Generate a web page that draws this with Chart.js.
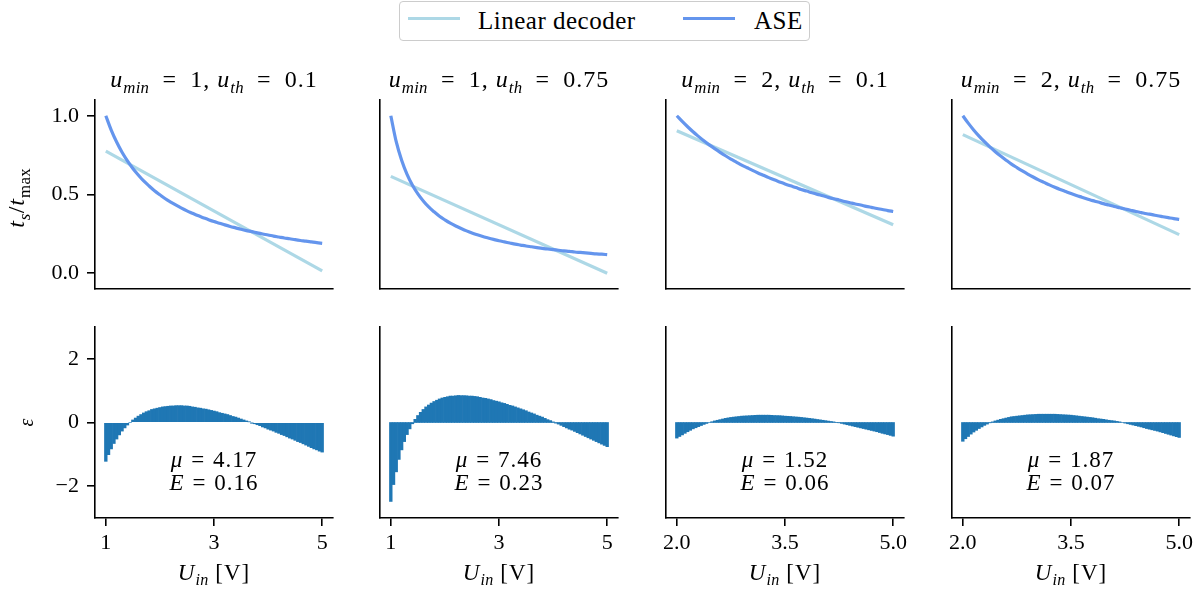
<!DOCTYPE html>
<html>
<head>
<meta charset="utf-8">
<script src="https://cdn.jsdelivr.net/npm/chart.js@4.4.0/dist/chart.umd.min.js"></script>
<style>
  html, body { margin: 0; padding: 0; background: #fff; }
  #page { position: relative; width: 1203px; height: 597px; overflow: hidden; font-family: 'Liberation Serif', serif; color: #000; }
  #page canvas { position: absolute; left: 0; top: 0; }
  .txt { position: absolute; white-space: nowrap; transform: translate(-50%, -50%); line-height: 1; letter-spacing: 1px; }
  .rot { transform: translate(-50%, -50%) rotate(-90deg); }
  .txt sub { font-size: 70%; vertical-align: -0.35em; line-height: 0; letter-spacing: 0.3px; }
  .eq { margin: 0 0.34em; }
  .title .eq { margin: 0 0.55em; }
  #legend { position: absolute; left: 399px; top: 1px; width: 409px; height: 38px; border: 1px solid #ccc; border-radius: 4px; background: #fff; font-size: 25px; letter-spacing: 0.5px; }
  #legend .swatch { position: absolute; top: 15px; width: 52px; height: 3px; }
  #legend .lbl { position: absolute; top: 18px; transform: translateY(-50%); line-height: 1; white-space: nowrap; }
</style>
</head>
<body>
<div id="page"></div>
<script>
// series names and colours
const seriesNames = ['Linear decoder', 'ASE'];
const seriesColors = ['#add8e6', '#6495ed'];
const barColor = '#1f77b4';

// panel parameters
const uMin = [1, 1, 2, 2];
const uTh = [0.1, 0.75, 0.1, 0.75];
const muValues = ['4.17', '7.46', '1.52', '1.87'];
const eValues = ['0.16', '0.23', '0.06', '0.07'];

// input voltage grids for the curves
const uGridA = [1.0, 1.1, 1.2, 1.3, 1.4, 1.5, 1.6, 1.7, 1.8, 1.9, 2.0, 2.1, 2.2, 2.3, 2.4, 2.5, 2.6, 2.7, 2.8, 2.9,
  3.0, 3.1, 3.2, 3.3, 3.4, 3.5, 3.6, 3.7, 3.8, 3.9, 4.0, 4.1, 4.2, 4.3, 4.4, 4.5, 4.6, 4.7, 4.8, 4.9, 5.0];
const uGridB = [2.0, 2.075, 2.15, 2.225, 2.3, 2.375, 2.45, 2.525, 2.6, 2.675, 2.75, 2.825, 2.9, 2.975, 3.05, 3.125,
  3.2, 3.275, 3.35, 3.425, 3.5, 3.575, 3.65, 3.725, 3.8, 3.875, 3.95, 4.025, 4.1, 4.175, 4.25, 4.325, 4.4, 4.475,
  4.55, 4.625, 4.7, 4.775, 4.85, 4.925, 5.0];

// input voltage grids for the error bars
const uFineA = [1.00, 1.05, 1.10, 1.15, 1.20, 1.25, 1.30, 1.35, 1.40, 1.45, 1.50, 1.55, 1.60, 1.65, 1.70, 1.75,
  1.80, 1.85, 1.90, 1.95, 2.00, 2.05, 2.10, 2.15, 2.20, 2.25, 2.30, 2.35, 2.40, 2.45, 2.50, 2.55, 2.60, 2.65, 2.70,
  2.75, 2.80, 2.85, 2.90, 2.95, 3.00, 3.05, 3.10, 3.15, 3.20, 3.25, 3.30, 3.35, 3.40, 3.45, 3.50, 3.55, 3.60, 3.65,
  3.70, 3.75, 3.80, 3.85, 3.90, 3.95, 4.00, 4.05, 4.10, 4.15, 4.20, 4.25, 4.30, 4.35, 4.40, 4.45, 4.50, 4.55, 4.60,
  4.65, 4.70, 4.75, 4.80, 4.85, 4.90, 4.95, 5.00];
const uFineB = [2.0, 2.0375, 2.075, 2.1125, 2.15, 2.1875, 2.225, 2.2625, 2.3, 2.3375, 2.375, 2.4125, 2.45, 2.4875,
  2.525, 2.5625, 2.6, 2.6375, 2.675, 2.7125, 2.75, 2.7875, 2.825, 2.8625, 2.9, 2.9375, 2.975, 3.0125, 3.05, 3.0875,
  3.125, 3.1625, 3.2, 3.2375, 3.275, 3.3125, 3.35, 3.3875, 3.425, 3.4625, 3.5, 3.5375, 3.575, 3.6125, 3.65, 3.6875,
  3.725, 3.7625, 3.8, 3.8375, 3.875, 3.9125, 3.95, 3.9875, 4.025, 4.0625, 4.1, 4.1375, 4.175, 4.2125, 4.25, 4.2875,
  4.325, 4.3625, 4.4, 4.4375, 4.475, 4.5125, 4.55, 4.5875, 4.625, 4.6625, 4.7, 4.7375, 4.775, 4.8125, 4.85, 4.8875,
  4.925, 4.9625, 5.0];

// t_s / t_max of the ASE
const ase1 = [1.000, 0.909, 0.833, 0.768, 0.713, 0.665, 0.624, 0.586, 0.554, 0.524, 0.498, 0.473, 0.452, 0.432,
  0.413, 0.396, 0.381, 0.366, 0.353, 0.340, 0.328, 0.318, 0.307, 0.297, 0.288, 0.279, 0.271, 0.264, 0.256, 0.249,
  0.243, 0.236, 0.230, 0.224, 0.219, 0.213, 0.208, 0.204, 0.199, 0.194, 0.190];
const ase2 = [1.000, 0.835, 0.717, 0.628, 0.559, 0.504, 0.459, 0.421, 0.390, 0.362, 0.339, 0.318, 0.300, 0.284,
  0.269, 0.256, 0.244, 0.233, 0.224, 0.215, 0.206, 0.199, 0.192, 0.185, 0.179, 0.173, 0.168, 0.163, 0.158, 0.154,
  0.150, 0.146, 0.142, 0.139, 0.135, 0.132, 0.129, 0.126, 0.123, 0.121, 0.118];
const ase3 = [1.000, 0.964, 0.930, 0.898, 0.869, 0.841, 0.815, 0.791, 0.768, 0.746, 0.725, 0.706, 0.687, 0.670,
  0.653, 0.637, 0.622, 0.607, 0.593, 0.580, 0.567, 0.555, 0.544, 0.532, 0.522, 0.511, 0.501, 0.492, 0.482, 0.473,
  0.465, 0.456, 0.448, 0.440, 0.433, 0.425, 0.418, 0.411, 0.405, 0.398, 0.392];
const ase4 = [1.000, 0.953, 0.910, 0.871, 0.835, 0.802, 0.772, 0.744, 0.718, 0.693, 0.671, 0.650, 0.630, 0.611,
  0.593, 0.577, 0.561, 0.546, 0.532, 0.519, 0.506, 0.494, 0.483, 0.472, 0.461, 0.452, 0.442, 0.433, 0.424, 0.416,
  0.408, 0.400, 0.392, 0.385, 0.378, 0.372, 0.365, 0.359, 0.353, 0.347, 0.342];

// linear decoder, value at first and last grid point
const linear1 = [0.775, 0.015];
const linear2 = [0.615, 0.0];
const linear3 = [0.905, 0.308];
const linear4 = [0.880, 0.245];

// error epsilon
const err1 = [-1.22, -1.01, -0.83, -0.66, -0.52, -0.39, -0.27, -0.17, -0.08, 0.00, 0.08, 0.14, 0.20, 0.25, 0.30,
  0.34, 0.37, 0.41, 0.43, 0.45, 0.47, 0.49, 0.50, 0.51, 0.52, 0.52, 0.53, 0.53, 0.53, 0.52, 0.52, 0.51, 0.49, 0.48,
  0.46, 0.45, 0.43, 0.42, 0.40, 0.38, 0.36, 0.34, 0.31, 0.29, 0.27, 0.25, 0.22, 0.19, 0.17, 0.14, 0.11, 0.08, 0.05,
  0.02, -0.01, -0.04, -0.07, -0.10, -0.14, -0.17, -0.21, -0.24, -0.27, -0.31, -0.34, -0.38, -0.41, -0.45, -0.49,
  -0.52, -0.56, -0.60, -0.63, -0.67, -0.71, -0.75, -0.79, -0.83, -0.86, -0.90, -0.93];
const err2 = [-2.48, -1.95, -1.55, -1.16, -0.86, -0.60, -0.38, -0.20, -0.04, 0.10, 0.22, 0.32, 0.41, 0.49, 0.55,
  0.61, 0.66, 0.70, 0.74, 0.77, 0.79, 0.81, 0.83, 0.83, 0.84, 0.85, 0.845, 0.845, 0.84, 0.83, 0.83, 0.82, 0.81, 0.79,
  0.77, 0.76, 0.74, 0.72, 0.69, 0.67, 0.65, 0.62, 0.60, 0.57, 0.54, 0.52, 0.49, 0.46, 0.43, 0.40, 0.37, 0.33, 0.30,
  0.27, 0.23, 0.20, 0.17, 0.13, 0.09, 0.06, 0.02, -0.02, -0.05, -0.09, -0.13, -0.17, -0.21, -0.24, -0.28, -0.32,
  -0.36, -0.40, -0.44, -0.48, -0.52, -0.56, -0.60, -0.64, -0.68, -0.72, -0.76];
const err3 = [-0.49, -0.44, -0.39, -0.34, -0.29, -0.245, -0.20, -0.165, -0.13, -0.095, -0.06, -0.03, 0.00, 0.025,
  0.05, 0.07, 0.09, 0.11, 0.13, 0.145, 0.16, 0.17, 0.18, 0.19, 0.20, 0.205, 0.21, 0.215, 0.22, 0.225, 0.23, 0.23,
  0.23, 0.23, 0.23, 0.225, 0.22, 0.218, 0.215, 0.208, 0.20, 0.195, 0.19, 0.182, 0.175, 0.168, 0.16, 0.15, 0.14, 0.13,
  0.12, 0.108, 0.095, 0.083, 0.07, 0.058, 0.045, 0.033, 0.02, 0.005, -0.01, -0.03, -0.05, -0.07, -0.09, -0.11, -0.13,
  -0.15, -0.17, -0.19, -0.21, -0.23, -0.25, -0.27, -0.29, -0.315, -0.34, -0.36, -0.38, -0.405, -0.43];
const err4 = [-0.59, -0.51, -0.44, -0.365, -0.30, -0.245, -0.19, -0.14, -0.09, -0.05, -0.01, 0.02, 0.05, 0.075,
  0.10, 0.12, 0.14, 0.16, 0.18, 0.19, 0.20, 0.21, 0.22, 0.23, 0.24, 0.245, 0.25, 0.255, 0.26, 0.26, 0.26, 0.26, 0.26,
  0.26, 0.26, 0.255, 0.25, 0.245, 0.24, 0.235, 0.23, 0.22, 0.21, 0.20, 0.19, 0.18, 0.17, 0.16, 0.15, 0.135, 0.12,
  0.11, 0.10, 0.085, 0.07, 0.06, 0.05, 0.035, 0.02, 0.00, -0.02, -0.04, -0.06, -0.08, -0.10, -0.12, -0.14, -0.165,
  -0.19, -0.21, -0.23, -0.25, -0.27, -0.295, -0.32, -0.345, -0.37, -0.395, -0.42, -0.445, -0.47];

// ticks
const topYTicks = [0, 0.5, 1.0];
const bottomYTicks = [-2, 0, 2];
const xTicksA = [1, 3, 5];
const xTicksB = [2.0, 3.5, 5.0];

// layout (pixels)
const W = 1203, H = 597;
const colLeft = [95, 380, 666, 952];
const colWidth = 238;
const topRow = [100, 289];
const bottomRow = [327, 518];
const yAxisW = 60, xAxisH = 40;
const tickFont = { family: "'Liberation Serif', serif", size: 22 };
const axisWidth = 1.6;

const columns = [
  { u: uGridA, ase: ase1, lin: linear1, uf: uFineA, err: err1, xRange: [0.8, 5.2], xTicks: xTicksA, dec: 0 },
  { u: uGridA, ase: ase2, lin: linear2, uf: uFineA, err: err2, xRange: [0.8, 5.2], xTicks: xTicksA, dec: 0 },
  { u: uGridB, ase: ase3, lin: linear3, uf: uFineB, err: err3, xRange: [1.85, 5.15], xTicks: xTicksB, dec: 1 },
  { u: uGridB, ase: ase4, lin: linear4, uf: uFineB, err: err4, xRange: [1.85, 5.15], xTicks: xTicksB, dec: 1 }
];

const page = document.getElementById('page');

function addText(html, x, y, size, cls) {
  const d = document.createElement('div');
  d.className = 'txt' + (cls ? ' ' + cls : '');
  d.style.left = x + 'px';
  d.style.top = y + 'px';
  d.style.fontSize = size + 'px';
  d.innerHTML = html;
  page.appendChild(d);
}

function fmtMinus(v) {
  return v < 0 ? '\u2212' + Math.abs(v) : String(v);
}

function xScale(col, show) {
  return {
    type: 'linear', min: col.xRange[0], max: col.xRange[1], offset: false,
    afterBuildTicks: s => { s.ticks = col.xTicks.map(v => ({ value: v })); },
    afterFit: s => { s.height = show ? xAxisH : 0; s.paddingLeft = 0; s.paddingRight = 0; },
    ticks: { display: show, autoSkip: false, maxRotation: 0, padding: 4, font: tickFont, color: '#000',
      callback: v => v.toFixed(col.dec) },
    grid: { display: show, offset: false, drawOnChartArea: false, drawTicks: true, tickLength: 8, color: '#000', lineWidth: axisWidth },
    border: { display: true, color: '#000', width: axisWidth }
  };
}

function yScale(range, ticks, show, fmt) {
  return {
    type: 'linear', min: range[0], max: range[1],
    afterBuildTicks: s => { s.ticks = ticks.map(v => ({ value: v })); },
    afterFit: s => { s.width = yAxisW; s.paddingTop = 0; s.paddingBottom = 0; },
    ticks: { display: show, autoSkip: false, padding: 8, font: tickFont, color: '#000', callback: fmt },
    grid: { display: show, offset: false, drawOnChartArea: false, drawTicks: true, tickLength: 8, color: '#000', lineWidth: axisWidth },
    border: { display: true, color: '#000', width: axisWidth }
  };
}

function makeCanvas() {
  const c = document.createElement('canvas');
  c.width = W; c.height = H;
  c.style.width = W + 'px'; c.style.height = H + 'px';
  page.appendChild(c);
  return c;
}

columns.forEach((col, i) => {
  const left = colLeft[i];
  const center = left + colWidth / 2;
  const last = col.u.length - 1;

  // top: decoding curves
  new Chart(makeCanvas(), {
    type: 'line',
    data: {
      datasets: [
        {
          label: seriesNames[1],
          data: col.u.map((u, k) => ({ x: u, y: col.ase[k] })),
          borderColor: seriesColors[1],
          borderWidth: 3.2,
          pointRadius: 0,
          cubicInterpolationMode: 'monotone',
          order: 0
        },
        {
          label: seriesNames[0],
          data: [{ x: col.u[0], y: col.lin[0] }, { x: col.u[last], y: col.lin[1] }],
          borderColor: seriesColors[0],
          borderWidth: 3.2,
          pointRadius: 0,
          order: 1
        }
      ]
    },
    options: {
      responsive: false, animation: false, devicePixelRatio: 1, events: [],
      layout: { padding: { left: left - yAxisW, right: W - left - colWidth, top: topRow[0], bottom: H - topRow[1] } },
      plugins: { legend: { display: false }, tooltip: { enabled: false } },
      scales: {
        x: xScale(col, false),
        y: yScale([-0.1, 1.1], topYTicks, i === 0, v => v.toFixed(1))
      }
    }
  });

  // bottom: error bars
  new Chart(makeCanvas(), {
    type: 'bar',
    data: {
      datasets: [{
        data: col.uf.map((u, k) => ({ x: u, y: col.err[k] })),
        backgroundColor: barColor,
        borderWidth: 0,
        barPercentage: 1,
        categoryPercentage: 1
      }]
    },
    options: {
      responsive: false, animation: false, devicePixelRatio: 1, events: [],
      layout: { padding: { left: left - yAxisW, right: W - left - colWidth, top: bottomRow[0], bottom: H - bottomRow[1] - xAxisH } },
      plugins: { legend: { display: false }, tooltip: { enabled: false } },
      scales: {
        x: xScale(col, true),
        y: yScale([-3, 3], bottomYTicks, i === 0, fmtMinus)
      }
    }
  });

  addText('<i>u</i><sub><i>min</i></sub><span class="eq">=</span>' + uMin[i] + ', <i>u</i><sub><i>th</i></sub><span class="eq">=</span>' + uTh[i], center, 79, 24, 'title');
  addText('<i>U</i><sub><i>in</i></sub> [V]', center, 572, 23);
  addText('<i>\u03bc</i><span class="eq">=</span>' + muValues[i], center, 459, 23);
  addText('<i>E</i><span class="eq">=</span>' + eValues[i], center, 482, 23);
});

// axis labels
addText('<i>t</i><sub><i>s</i></sub>/<i>t</i><sub>max</sub>', 16, 198, 24, 'rot');
addText('<i>\u03b5</i>', 26, 422, 20, 'rot');

// legend
const legend = document.createElement('div');
legend.id = 'legend';
const swatchLeft = [8, 283];
const labelLeft = [78, 354];
seriesNames.forEach((name, k) => {
  const sw = document.createElement('div');
  sw.className = 'swatch';
  sw.style.left = swatchLeft[k] + 'px';
  sw.style.background = seriesColors[k];
  legend.appendChild(sw);
  const lb = document.createElement('div');
  lb.className = 'lbl';
  lb.style.left = labelLeft[k] + 'px';
  lb.textContent = name;
  legend.appendChild(lb);
});
page.appendChild(legend);
</script>
</body>
</html>
